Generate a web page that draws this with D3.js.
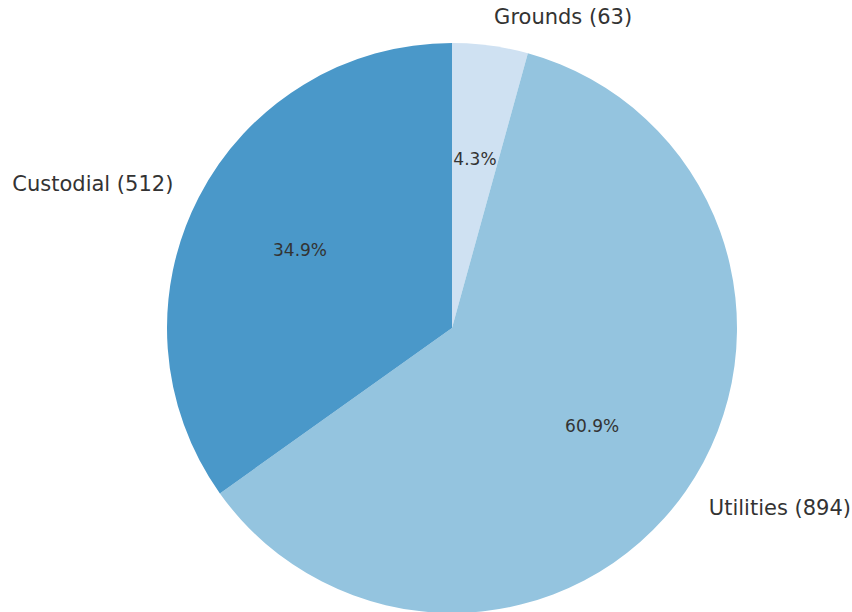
<!DOCTYPE html>
<html>
<head>
<meta charset="utf-8">
<script src="https://cdn.jsdelivr.net/npm/d3@7/dist/d3.min.js"></script>
<style>
  html, body { margin: 0; padding: 0; background: #ffffff; }
  svg { display: block; }
  text { font-family: "DejaVu Sans", sans-serif; fill: #333333; }
</style>
</head>
<body>
<svg id="chart" width="852" height="612"></svg>
<script>
const categories = ["Grounds", "Utilities", "Custodial"];
const values = [63, 894, 512];
const colors = ["#cfe1f2", "#94c4df", "#4a98c9"];

const width = 852, height = 612;
const cx = 452, cy = 328, radius = 285;

const svg = d3.select("#chart");
const g = svg.append("g").attr("transform", `translate(${cx},${cy})`);

const data = categories.map((c, i) => ({ name: c, value: values[i], color: colors[i] }));
const total = d3.sum(values);

const pie = d3.pie().value(d => d.value).sort(null).startAngle(0).endAngle(2 * Math.PI);
const arcs = pie(data);
const arc = d3.arc().innerRadius(0).outerRadius(radius);

g.selectAll("path.slice")
  .data(arcs)
  .join("path")
  .attr("class", "slice")
  .attr("d", arc)
  .attr("fill", d => d.data.color);

function pos(d, f) {
  const a = (d.startAngle + d.endAngle) / 2;
  return [f * radius * Math.sin(a), -f * radius * Math.cos(a)];
}

// percentage labels
g.selectAll("text.pct")
  .data(arcs)
  .join("text")
  .attr("class", "pct")
  .attr("x", d => pos(d, 0.6)[0])
  .attr("y", d => pos(d, 0.6)[1])
  .attr("text-anchor", "middle")
  .attr("dominant-baseline", "central")
  .style("font-size", "17px")
  .text(d => (d.data.value / total * 100).toFixed(1) + "%");

// category labels
g.selectAll("text.lbl")
  .data(arcs)
  .join("text")
  .attr("class", "lbl")
  .attr("x", d => pos(d, 1.1)[0])
  .attr("y", d => pos(d, 1.1)[1])
  .attr("text-anchor", d => pos(d, 1.1)[0] >= 0 ? "start" : "end")
  .attr("dominant-baseline", "central")
  .style("font-size", "21px")
  .text(d => `${d.data.name} (${d.data.value})`);
</script>
</body>
</html>
